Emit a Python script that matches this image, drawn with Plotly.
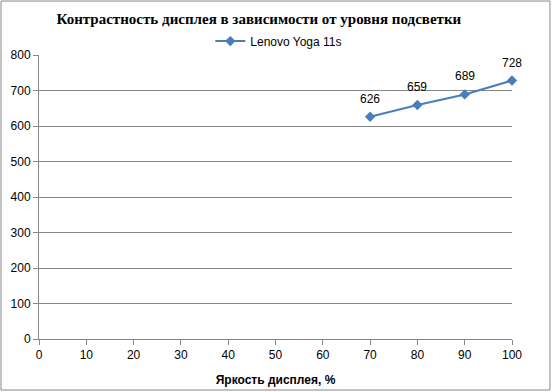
import plotly.graph_objects as go

brightness = [70, 80, 90, 100]
contrast = [626, 659, 689, 728]
series_name = "Lenovo Yoga 11s"
title = "Контрастность дисплея в зависимости от уровня подсветки"
x_title = "Яркость дисплея, %"

color = "#4A7EBB"

fig = go.Figure()
fig.add_trace(go.Scatter(
    x=brightness, y=contrast, name=series_name,
    mode="lines+markers",
    line=dict(color=color, width=2),
    marker=dict(symbol="diamond", size=8, color=color),
    cliponaxis=False,
))

annotations = [dict(x=xv, y=yv, xref="x", yref="y", text=str(yv), showarrow=False,
                    yshift=18, font=dict(family="Liberation Sans", size=12, color="#000000"))
               for xv, yv in zip(brightness, contrast)]

fig.update_layout(
    width=552, height=392,
    margin=dict(l=39, r=40, t=55, b=53),
    paper_bgcolor="white", plot_bgcolor="white",
    title=dict(text="<b>" + title + "</b>", x=0.469, xanchor="center", y=0.952, yanchor="middle",
               font=dict(family="Liberation Serif", size=15, color="#000000")),
    showlegend=True,
    legend=dict(orientation="h", x=0.507, xanchor="center", y=1.049, yanchor="middle",
                font=dict(family="Liberation Sans", size=12, color="#000000"),
                bgcolor="rgba(0,0,0,0)"),
    annotations=annotations,
    xaxis=dict(range=[0, 100], tickvals=list(range(0, 101, 10)), showgrid=False,
               showline=True, linecolor="#868686", linewidth=1,
               ticks="outside", ticklen=5, tickcolor="#868686", automargin=False,
               tickfont=dict(family="Liberation Sans", size=12, color="#000000"),
               title=dict(text="<b>" + x_title + "</b>", standoff=14,
                          font=dict(family="Liberation Sans", size=12, color="#000000")),
               zeroline=False),
    yaxis=dict(range=[0, 800], tickvals=list(range(0, 801, 100)), showgrid=True,
               gridcolor="#868686", gridwidth=1, automargin=False,
               showline=True, linecolor="#868686", linewidth=1,
               ticks="outside", ticklen=5, tickcolor="#868686",
               tickfont=dict(family="Liberation Sans", size=12, color="#000000"),
               zeroline=False),
    shapes=[dict(type="rect", xref="paper", yref="paper", x0=-0.0803, x1=1.0803, y0=-0.1796, y1=1.190,
                 line=dict(color="#868686", width=1), layer="below")],
)

fig.write_html("out.html", config={"displayModeBar": False},
               post_script="document.body.style.margin='0';")
